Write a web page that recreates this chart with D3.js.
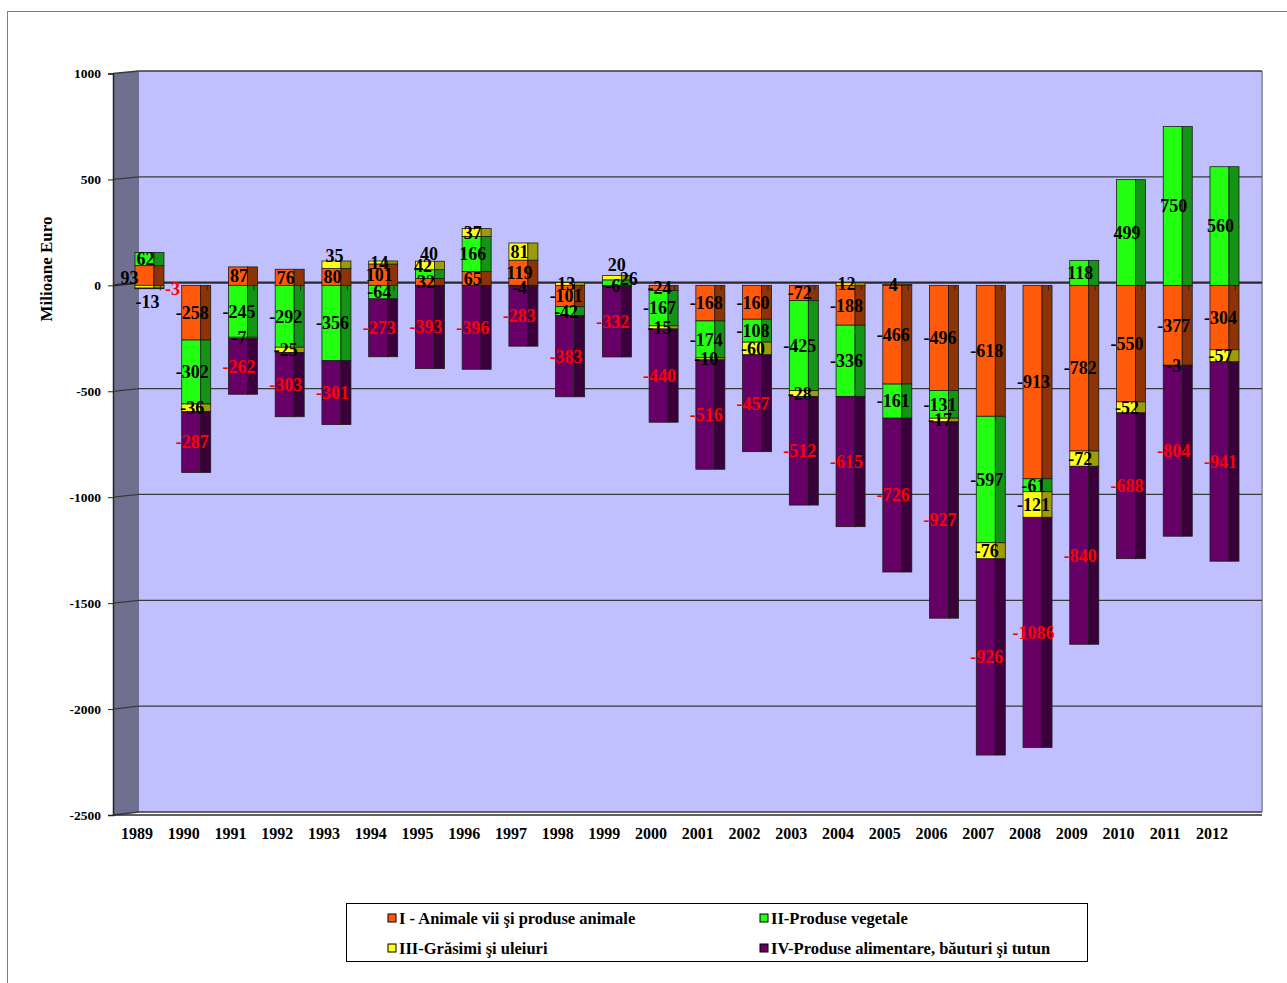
<!DOCTYPE html>
<html>
<head>
<meta charset="utf-8">
<script src="https://cdn.jsdelivr.net/npm/d3@7/dist/d3.min.js"></script>
<style>
  html, body { margin: 0; padding: 0; background: #fff; }
  svg { display: block; }
  text { font-family: "Liberation Serif", "Times New Roman", serif; font-weight: bold; }
</style>
</head>
<body>
<svg id="chart" width="1287" height="983"></svg>
<script>
// ---------------- DATA ----------------
const years = ["1989","1990","1991","1992","1993","1994","1995","1996","1997","1998","1999","2000",
               "2001","2002","2003","2004","2005","2006","2007","2008","2009","2010","2011","2012"];
const animale    = [93,-258,87,76,80,101,32,65,119,-101,-6,-24,-168,-160,-72,-188,-466,-496,-618,-913,-782,-550,-377,-304];
const vegetale   = [62,-302,-245,-292,-356,-64,42,166,-4,-42,26,-167,-174,-108,-425,-336,-161,-131,-597,-61,118,499,750,560];
const grasimi    = [-13,-36,-7,-25,35,14,40,37,81,13,20,-15,-10,-60,-28,12,4,-17,-76,-121,-72,-52,-3,-57];
const alimentare = [-3,-287,-262,-303,-301,-273,-393,-396,-283,-383,-332,-440,-516,-457,-512,-615,-726,-927,-926,-1086,-840,-688,-804,-941];
const seriesNames = ["I - Animale vii şi produse animale", "II-Produse vegetale",
                     "III-Grăsimi şi uleiuri", "IV-Produse alimentare, băuturi şi tutun"];
const yTicks = [1000, 500, 0, -500, -1000, -1500, -2000, -2500];
const yTitle = "Milioane Euro";

// ---------------- STYLE / LAYOUT ----------------
const keys = ["I","II","III","IV"];
const frontColors = {I:"#FF5A0A", II:"#22FF11", III:"#FFFF11", IV:"#660066"};
const sideColors  = {I:"#8E3305", II:"#149414", III:"#9C9C05", IV:"#3B003B"};
const labelColors = {I:"#000", II:"#000", III:"#000", IV:"#FF0000"};
// manual label nudges (as done in the original chart to avoid overlaps)
const labelNudges = {
  "1989|I":[-16,2], "1989|III":[2,15], "1989|IV":[27,0],
  "1993|III":[2,-9], "1995|II":[-3,-8], "1995|III":[3,-12],
  "1997|II":[0,2],
  "1999|III":[4,-13], "1999|II":[16,-4]
};

const table = years.map((y,i)=>({year:y, I:animale[i], II:vegetale[i], III:grasimi[i], IV:alimentare[i]}));
const stacked = d3.stack().keys(keys).offset(d3.stackOffsetDiverging)(table);

const svg = d3.select("#chart");

// outer border
svg.append("rect").attr("x",7.5).attr("y",11.5).attr("width",1300).attr("height",1000)
  .attr("fill","none").attr("stroke","#7f7f7f").attr("stroke-width",1);

const axisX = 113, wallX = 139, wallRight = 1262;
const yA = d3.scaleLinear().domain([-2500,1000]).range([815,73.5]);   // front (axis) plane
const yW = d3.scaleLinear().domain([-2500,1000]).range([812,71]);     // back wall plane
const x = d3.scaleBand().domain(years).range([113.6, 113.6 + 46.74*24]).padding(0);
const cx = d => x(d) + x.bandwidth()/2;

// back wall
svg.append("rect").attr("x",wallX).attr("y",yW(1000)).attr("width",wallRight-wallX)
  .attr("height",yW(-2500)-yW(1000)).attr("fill","#C0C0FF");
svg.append("line").attr("x1",wallRight).attr("x2",wallRight).attr("y1",yW(1000)).attr("y2",yW(-2500))
  .attr("stroke","#9a9aa8").attr("stroke-width",2);
// left wall
svg.append("polygon")
  .attr("points",[[axisX,yA(1000)],[wallX,yW(1000)],[wallX,yW(-2500)],[axisX,yA(-2500)]].map(p=>p.join(",")).join(" "))
  .attr("fill","#6F6F90");

// gridlines
yTicks.forEach(v=>{
  svg.append("polyline")
    .attr("points",[[axisX,yA(v)],[wallX,yW(v)],[wallRight,yW(v)]].map(p=>p.join(",")).join(" "))
    .attr("fill","none").attr("stroke", v===0 ? "#2a2a2a" : "#3a3a3a")
    .attr("stroke-width", v===0 ? 2.2 : 1.3);
});
// floor edge
svg.append("line").attr("x1",axisX).attr("x2",wallRight).attr("y1",yA(-2500)).attr("y2",yA(-2500))
  .attr("stroke","#2a2a2a").attr("stroke-width",1.5);

// y axis
const yAxisG = svg.append("g").attr("transform",`translate(${axisX},0)`)
  .call(d3.axisLeft(yA).tickValues(yTicks).tickSize(5).tickPadding(7).tickFormat(d=>String(d)));
yAxisG.select(".domain").attr("stroke","#222").attr("stroke-width",1.5);
yAxisG.selectAll(".tick line").attr("stroke","#222");
yAxisG.selectAll("text").attr("font-size",13.5).attr("fill","#000")
  .style("font-family","'Liberation Serif', serif").style("font-weight","bold");

// y title
svg.append("text").attr("transform","translate(52,269) rotate(-90)")
  .attr("text-anchor","middle").attr("font-size",17).text(yTitle);

// x labels
svg.append("g").selectAll("text").data(years).join("text")
  .attr("x",d=>cx(d)).attr("y",839).attr("text-anchor","middle").attr("font-size",16).text(d=>d);

// bars
const frontW = 19, sideW = 10, frontOff = -2;
const barG = svg.append("g");
stacked.forEach(s=>{
  const k = s.key;
  s.forEach(seg=>{
    const yr = seg.data.year;
    if (seg[0] === seg[1]) return;
    const top = yA(Math.max(seg[0],seg[1])), bot = yA(Math.min(seg[0],seg[1]));
    const x0 = cx(yr) + frontOff;
    barG.append("rect").attr("x",x0).attr("y",top).attr("width",frontW).attr("height",bot-top)
      .attr("fill",frontColors[k]).attr("stroke","#1a1a1a").attr("stroke-width",0.8);
    barG.append("rect").attr("x",x0+frontW).attr("y",top).attr("width",sideW).attr("height",bot-top)
      .attr("fill",sideColors[k]).attr("stroke","#1a1a1a").attr("stroke-width",0.8);
  });
});

// category ticks on zero line
const bounds = years.map(y=>x(y)).concat([x(years[years.length-1])+x.bandwidth()]);
svg.append("g").selectAll("line").data(bounds.slice(1)).join("line")
  .attr("x1",d=>d).attr("x2",d=>d).attr("y1",yA(0)).attr("y2",yA(0)+5)
  .attr("stroke","#222").attr("stroke-width",1);

// data labels
const labG = svg.append("g");
stacked.forEach(s=>{
  const k = s.key;
  s.forEach(seg=>{
    const yr = seg.data.year, v = seg.data[k];
    if (!v) return;
    const n = labelNudges[yr+"|"+k] || [0,0];
    labG.append("text")
      .attr("x", cx(yr) + frontOff + frontW/2 + 1 + n[0])
      .attr("y", yA((seg[0]+seg[1])/2) + n[1])
      .attr("dy","0.35em").attr("text-anchor","middle")
      .attr("font-size",18).attr("fill",labelColors[k]).text(v);
  });
});

// legend
const lg = svg.append("g");
lg.append("rect").attr("x",346.5).attr("y",903.5).attr("width",741).attr("height",58)
  .attr("fill","#fff").attr("stroke","#000").attr("stroke-width",1);
const legPos = [[388,918],[760,918],[388,948],[760,948]];
keys.forEach((k,i)=>{
  const [lx,ly] = legPos[i];
  lg.append("rect").attr("x",lx).attr("y",ly-4).attr("width",8).attr("height",8)
    .attr("fill",frontColors[k]).attr("stroke","#000").attr("stroke-width",1);
  lg.append("text").attr("x",lx+11).attr("y",ly).attr("dy","0.35em")
    .attr("font-size",16.5).text(seriesNames[i]);
});
</script>
</body>
</html>
